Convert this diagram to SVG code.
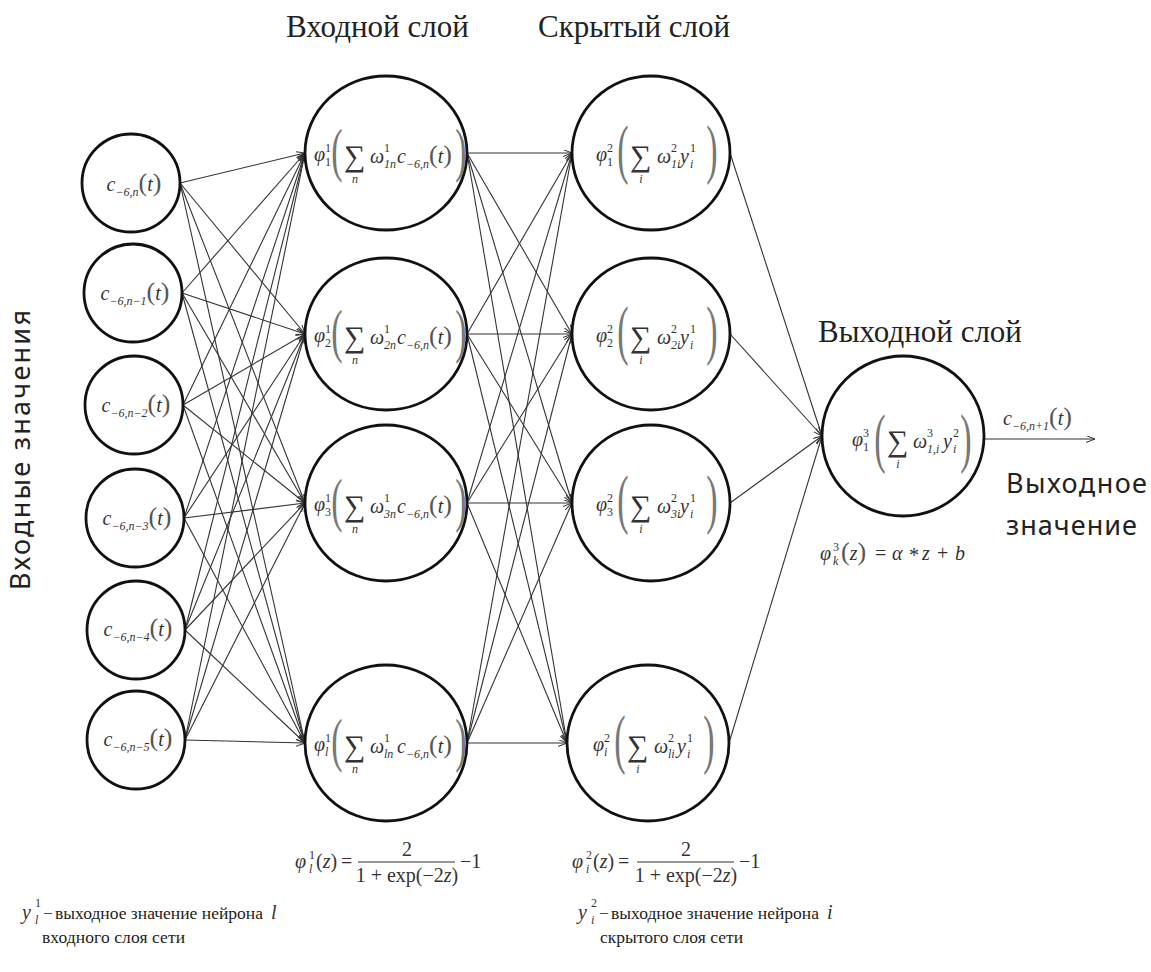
<svg xmlns="http://www.w3.org/2000/svg" width="1151" height="972" viewBox="0 0 1151 972">
<defs>
<marker id="arr" markerWidth="10" markerHeight="8" refX="9" refY="3.5" orient="auto" markerUnits="userSpaceOnUse">
<path d="M0,0 L9,3.5 L0,7" fill="none" stroke="#333" stroke-width="1"/>
</marker>
<style>
.node{fill:#fff;stroke:#111;stroke-width:2.8}
#connectors line{stroke:#333;stroke-width:1.1;marker-end:url(#arr)}
.title{font-family:"Liberation Serif","Times New Roman","DejaVu Serif",serif;font-size:31px;fill:#222}
.sans{font-family:"Noto Sans","Open Sans",sans-serif;font-size:27px;fill:#222}
.m{font-family:"Liberation Serif","Times New Roman","DejaVu Serif",serif;font-style:italic;font-size:20px;fill:#333}
.s{font-size:12px}
.u{font-style:normal}
.p{font-style:normal;font-size:26px;fill:#555}
.bp{font-family:"Liberation Serif","Times New Roman","DejaVu Serif",serif;font-size:34px;fill:#777}
.sum{font-family:"Liberation Serif","Times New Roman","DejaVu Serif",serif;font-size:30px;fill:#333}
.t{font-family:"Liberation Serif","Times New Roman","DejaVu Serif",serif;font-size:17.5px;fill:#222}
.bar{stroke:#333;stroke-width:1}
</style>
</defs>
<rect width="1151" height="972" fill="#fff"/>

<g id="titles">
<text class="title" x="286" y="37">Входной слой</text>
<text class="title" x="538" y="37">Скрытый слой</text>
<text class="title" x="818" y="342">Выходной слой</text>
<text class="sans" x="1006" y="493" textLength="141">Выходное</text>
<text class="sans" x="1006" y="535" textLength="131">значение</text>
<text class="sans" transform="translate(30,450) rotate(-90)" text-anchor="middle" textLength="280">Входные значения</text>
</g>

<g id="connectors">
<line x1="180" y1="183" x2="305" y2="153"/>
<line x1="180" y1="183" x2="305" y2="334"/>
<line x1="180" y1="183" x2="305" y2="503"/>
<line x1="180" y1="183" x2="305" y2="743"/>
<line x1="182" y1="293" x2="305" y2="153"/>
<line x1="182" y1="293" x2="305" y2="334"/>
<line x1="182" y1="293" x2="305" y2="503"/>
<line x1="182" y1="293" x2="305" y2="743"/>
<line x1="183" y1="405" x2="305" y2="153"/>
<line x1="183" y1="405" x2="305" y2="334"/>
<line x1="183" y1="405" x2="305" y2="503"/>
<line x1="183" y1="405" x2="305" y2="743"/>
<line x1="184" y1="518" x2="305" y2="153"/>
<line x1="184" y1="518" x2="305" y2="334"/>
<line x1="184" y1="518" x2="305" y2="503"/>
<line x1="184" y1="518" x2="305" y2="743"/>
<line x1="185" y1="630" x2="305" y2="153"/>
<line x1="185" y1="630" x2="305" y2="334"/>
<line x1="185" y1="630" x2="305" y2="503"/>
<line x1="185" y1="630" x2="305" y2="743"/>
<line x1="185" y1="740" x2="305" y2="153"/>
<line x1="185" y1="740" x2="305" y2="334"/>
<line x1="185" y1="740" x2="305" y2="503"/>
<line x1="185" y1="740" x2="305" y2="743"/>

<line x1="467" y1="153" x2="572" y2="153"/>
<line x1="467" y1="153" x2="572" y2="334"/>
<line x1="467" y1="153" x2="572" y2="503"/>
<line x1="467" y1="153" x2="567" y2="743"/>
<line x1="467" y1="334" x2="572" y2="153"/>
<line x1="467" y1="334" x2="572" y2="334"/>
<line x1="467" y1="334" x2="572" y2="503"/>
<line x1="467" y1="334" x2="567" y2="743"/>
<line x1="467" y1="503" x2="572" y2="153"/>
<line x1="467" y1="503" x2="572" y2="334"/>
<line x1="467" y1="503" x2="572" y2="503"/>
<line x1="467" y1="503" x2="567" y2="743"/>
<line x1="467" y1="743" x2="572" y2="153"/>
<line x1="467" y1="743" x2="572" y2="334"/>
<line x1="467" y1="743" x2="572" y2="503"/>
<line x1="467" y1="743" x2="567" y2="743"/>

<line x1="730" y1="153" x2="822" y2="436"/>
<line x1="730" y1="334" x2="822" y2="436"/>
<line x1="730" y1="503" x2="822" y2="436"/>
<line x1="729" y1="743" x2="822" y2="436"/>

<line x1="984" y1="439" x2="1095" y2="439"/>
</g>

<!-- input values -->
<g id="x0"><circle class="node" cx="131" cy="183" r="49"/>
<text class="m" text-anchor="middle" x="134" y="191">c<tspan class="s" dy="5">−6,n</tspan><tspan class="p" dy="-5">(</tspan>t<tspan class="p">)</tspan></text></g>
<g id="x1"><circle class="node" cx="133" cy="293" r="49"/>
<text class="m" text-anchor="middle" x="135" y="300">c<tspan class="s" dy="5">−6,n−1</tspan><tspan class="p" dy="-5">(</tspan>t<tspan class="p">)</tspan></text></g>
<g id="x2"><circle class="node" cx="134" cy="405" r="49"/>
<text class="m" text-anchor="middle" x="136" y="412">c<tspan class="s" dy="5">−6,n−2</tspan><tspan class="p" dy="-5">(</tspan>t<tspan class="p">)</tspan></text></g>
<g id="x3"><circle class="node" cx="135" cy="518" r="49"/>
<text class="m" text-anchor="middle" x="137" y="525">c<tspan class="s" dy="5">−6,n−3</tspan><tspan class="p" dy="-5">(</tspan>t<tspan class="p">)</tspan></text></g>
<g id="x4"><circle class="node" cx="136" cy="630" r="49"/>
<text class="m" text-anchor="middle" x="138" y="636">c<tspan class="s" dy="5">−6,n−4</tspan><tspan class="p" dy="-5">(</tspan>t<tspan class="p">)</tspan></text></g>
<g id="x5"><circle class="node" cx="136" cy="740" r="49"/>
<text class="m" text-anchor="middle" x="138" y="746">c<tspan class="s" dy="5">−6,n−5</tspan><tspan class="p" dy="-5">(</tspan>t<tspan class="p">)</tspan></text></g>

<!-- input layer -->
<g id="in1" transform="translate(386,153)">
<ellipse class="node" rx="81" ry="77"/>
<text class="m" x="-72" y="8">φ</text><text class="m s u" x="-61" y="-1">1</text><text class="m s u" x="-61" y="13">1</text>
<text class="bp" transform="translate(-49,2) scale(1,1.75)" y="8.8" text-anchor="middle">(</text>
<text class="sum" x="-42" y="13">∑</text><text class="m s" x="-31" y="30" text-anchor="middle">n</text>
<text class="m" x="-16" y="10">ω</text><text class="m s u" x="-2" y="-1">1</text><text class="m s" x="-2" y="15">1n</text>
<text class="m" x="11" y="10">c<tspan class="s" dy="5">−6,n</tspan><tspan class="p" dy="-5">(</tspan>t<tspan class="p">)</tspan></text>
<text class="bp" transform="translate(75,2) scale(1,1.75)" y="8.8" text-anchor="middle">)</text>
</g>
<g id="in2" transform="translate(386,334)">
<ellipse class="node" rx="81" ry="76"/>
<text class="m" x="-72" y="8">φ</text><text class="m s u" x="-61" y="-1">1</text><text class="m s u" x="-61" y="13">2</text>
<text class="bp" transform="translate(-49,2) scale(1,1.75)" y="8.8" text-anchor="middle">(</text>
<text class="sum" x="-42" y="13">∑</text><text class="m s" x="-31" y="30" text-anchor="middle">n</text>
<text class="m" x="-16" y="10">ω</text><text class="m s u" x="-2" y="-1">1</text><text class="m s" x="-2" y="15">2n</text>
<text class="m" x="11" y="10">c<tspan class="s" dy="5">−6,n</tspan><tspan class="p" dy="-5">(</tspan>t<tspan class="p">)</tspan></text>
<text class="bp" transform="translate(75,2) scale(1,1.75)" y="8.8" text-anchor="middle">)</text>
</g>
<g id="in3" transform="translate(386,503)">
<ellipse class="node" rx="81" ry="78"/>
<text class="m" x="-72" y="8">φ</text><text class="m s u" x="-61" y="-1">1</text><text class="m s u" x="-61" y="13">3</text>
<text class="bp" transform="translate(-49,2) scale(1,1.75)" y="8.8" text-anchor="middle">(</text>
<text class="sum" x="-42" y="13">∑</text><text class="m s" x="-31" y="30" text-anchor="middle">n</text>
<text class="m" x="-16" y="10">ω</text><text class="m s u" x="-2" y="-1">1</text><text class="m s" x="-2" y="15">3n</text>
<text class="m" x="11" y="10">c<tspan class="s" dy="5">−6,n</tspan><tspan class="p" dy="-5">(</tspan>t<tspan class="p">)</tspan></text>
<text class="bp" transform="translate(75,2) scale(1,1.75)" y="8.8" text-anchor="middle">)</text>
</g>
<g id="in4" transform="translate(386,743)">
<ellipse class="node" rx="81" ry="78"/>
<text class="m" x="-72" y="8">φ</text><text class="m s u" x="-61" y="-1">1</text><text class="m s" x="-61" y="13">l</text>
<text class="bp" transform="translate(-49,2) scale(1,1.75)" y="8.8" text-anchor="middle">(</text>
<text class="sum" x="-42" y="13">∑</text><text class="m s" x="-31" y="30" text-anchor="middle">n</text>
<text class="m" x="-16" y="10">ω</text><text class="m s u" x="-2" y="-1">1</text><text class="m s" x="-2" y="15">ln</text>
<text class="m" x="11" y="10">c<tspan class="s" dy="5">−6,n</tspan><tspan class="p" dy="-5">(</tspan>t<tspan class="p">)</tspan></text>
<text class="bp" transform="translate(75,2) scale(1,1.75)" y="8.8" text-anchor="middle">)</text>
</g>

<!-- hidden layer -->
<g id="h1" transform="translate(651,153)">
<ellipse class="node" rx="79" ry="77"/>
<text class="m" x="-55" y="8">φ</text><text class="m s u" x="-44" y="-1">2</text><text class="m s u" x="-44" y="13">1</text>
<text class="bp" transform="translate(-28,1) scale(1,1.95)" y="8.8" text-anchor="middle">(</text>
<text class="sum" x="-21" y="13">∑</text><text class="m s" x="-10" y="30" text-anchor="middle">i</text>
<text class="m" x="6" y="10">ω</text><text class="m s u" x="20" y="-1">2</text><text class="m s" x="20" y="15">1i</text>
<text class="m" x="29" y="10">y</text><text class="m s u" x="39" y="-1">1</text><text class="m s" x="39" y="15">i</text>
<text class="bp" transform="translate(61,1) scale(1,1.95)" y="8.8" text-anchor="middle">)</text>
</g>
<g id="h2" transform="translate(651,334)">
<ellipse class="node" rx="79" ry="76"/>
<text class="m" x="-55" y="8">φ</text><text class="m s u" x="-44" y="-1">2</text><text class="m s u" x="-44" y="13">2</text>
<text class="bp" transform="translate(-28,1) scale(1,1.95)" y="8.8" text-anchor="middle">(</text>
<text class="sum" x="-21" y="13">∑</text><text class="m s" x="-10" y="30" text-anchor="middle">i</text>
<text class="m" x="6" y="10">ω</text><text class="m s u" x="20" y="-1">2</text><text class="m s" x="20" y="15">2i</text>
<text class="m" x="29" y="10">y</text><text class="m s u" x="39" y="-1">1</text><text class="m s" x="39" y="15">i</text>
<text class="bp" transform="translate(61,1) scale(1,1.95)" y="8.8" text-anchor="middle">)</text>
</g>
<g id="h3" transform="translate(651,503)">
<ellipse class="node" rx="79" ry="78"/>
<text class="m" x="-55" y="8">φ</text><text class="m s u" x="-44" y="-1">2</text><text class="m s u" x="-44" y="13">3</text>
<text class="bp" transform="translate(-28,1) scale(1,1.95)" y="8.8" text-anchor="middle">(</text>
<text class="sum" x="-21" y="13">∑</text><text class="m s" x="-10" y="30" text-anchor="middle">i</text>
<text class="m" x="6" y="10">ω</text><text class="m s u" x="20" y="-1">2</text><text class="m s" x="20" y="15">3i</text>
<text class="m" x="29" y="10">y</text><text class="m s u" x="39" y="-1">1</text><text class="m s" x="39" y="15">i</text>
<text class="bp" transform="translate(61,1) scale(1,1.95)" y="8.8" text-anchor="middle">)</text>
</g>
<g id="h4" transform="translate(648,743)">
<ellipse class="node" rx="81" ry="78"/>
<text class="m" x="-55" y="8">φ</text><text class="m s u" x="-44" y="-1">2</text><text class="m s" x="-44" y="13">i</text>
<text class="bp" transform="translate(-28,1) scale(1,1.95)" y="8.8" text-anchor="middle">(</text>
<text class="sum" x="-21" y="13">∑</text><text class="m s" x="-10" y="30" text-anchor="middle">i</text>
<text class="m" x="6" y="10">ω</text><text class="m s u" x="20" y="-1">2</text><text class="m s" x="20" y="15">li</text>
<text class="m" x="29" y="10">y</text><text class="m s u" x="39" y="-1">1</text><text class="m s" x="39" y="15">i</text>
<text class="bp" transform="translate(61,1) scale(1,1.95)" y="8.8" text-anchor="middle">)</text>
</g>

<!-- output -->
<g id="out" transform="translate(903,436)">
<ellipse class="node" rx="81" ry="80"/>
<text class="m" x="-51" y="10">φ</text><text class="m s u" x="-40" y="1">3</text><text class="m s u" x="-40" y="15">1</text>
<text class="bp" transform="translate(-23,7) scale(1,1.95)" y="8.8" text-anchor="middle">(</text>
<text class="sum" x="-16" y="15">∑</text><text class="m s" x="-5" y="32" text-anchor="middle">i</text>
<text class="m" x="10" y="12">ω</text><text class="m s u" x="24" y="1">3</text><text class="m s" x="24" y="17">1,i</text>
<text class="m" x="40" y="12">y</text><text class="m s u" x="50" y="1">2</text><text class="m s" x="50" y="17">i</text>
<text class="bp" transform="translate(63,7) scale(1,1.95)" y="8.8" text-anchor="middle">)</text>
</g>
<g id="outlabel">
<text class="m" x="1003" y="425">c<tspan class="s" dy="5">−6,n+1</tspan><tspan class="p" dy="-5">(</tspan>t<tspan class="p">)</tspan></text>
</g>

<!-- activation formulas -->
<g id="f3">
<text class="m" x="820" y="560">φ</text><text class="m s u" x="833" y="551">3</text><text class="m s" x="833" y="565">k</text>
<text class="m" x="841" y="560"><tspan class="p">(</tspan>z<tspan class="p">)</tspan></text>
<text class="m u" x="875" y="560">=</text>
<text class="m" x="892" y="560">α</text>
<text class="m u" x="909" y="562">*</text>
<text class="m" x="922" y="560">z</text>
<text class="m u" x="937" y="560">+</text>
<text class="m" x="955" y="560">b</text>
</g>
<g id="f1">
<text class="m" x="295" y="868">φ</text><text class="m s u" x="309" y="859">1</text><text class="m s" x="309" y="873">l</text>
<text class="m" x="316" y="868"><tspan class="u">(</tspan>z<tspan class="u">)</tspan></text>
<text class="m u" x="341" y="868">=</text>
<text class="m u" x="407" y="856" text-anchor="middle">2</text>
<line class="bar" x1="358" y1="862" x2="455" y2="862"/>
<text class="m u" x="407" y="882" text-anchor="middle" font-size="18">1 + exp(−2<tspan font-style="italic">z</tspan>)</text>
<text class="m u" x="460" y="868">−1</text>
</g>
<g id="f2">
<text class="m" x="572" y="868">φ</text><text class="m s u" x="586" y="859">2</text><text class="m s" x="586" y="873">i</text>
<text class="m" x="593" y="868"><tspan class="u">(</tspan>z<tspan class="u">)</tspan></text>
<text class="m u" x="618" y="868">=</text>
<text class="m u" x="686" y="856" text-anchor="middle">2</text>
<line class="bar" x1="637" y1="862" x2="734" y2="862"/>
<text class="m u" x="686" y="882" text-anchor="middle" font-size="18">1 + exp(−2<tspan font-style="italic">z</tspan>)</text>
<text class="m u" x="739" y="868">−1</text>
</g>

<!-- notes -->
<g id="note1">
<text class="m" x="22" y="919" font-size="24">y</text><text class="m s u" x="35" y="907">1</text><text class="m s" x="35" y="924">l</text>
<text class="t" x="43" y="919">−</text>
<text class="t" x="55" y="919" textLength="208">выходное значение нейрона</text>
<text class="m" x="271" y="919">l</text>
<text class="t" x="42" y="943" textLength="143">входного слоя сети</text>
</g>
<g id="note2">
<text class="m" x="578" y="919" font-size="24">y</text><text class="m s u" x="591" y="907">2</text><text class="m s" x="591" y="924">i</text>
<text class="t" x="599" y="919">−</text>
<text class="t" x="611" y="919" textLength="208">выходное значение нейрона</text>
<text class="m" x="827" y="919">i</text>
<text class="t" x="600" y="943" textLength="143">скрытого слоя сети</text>
</g>
</svg>
